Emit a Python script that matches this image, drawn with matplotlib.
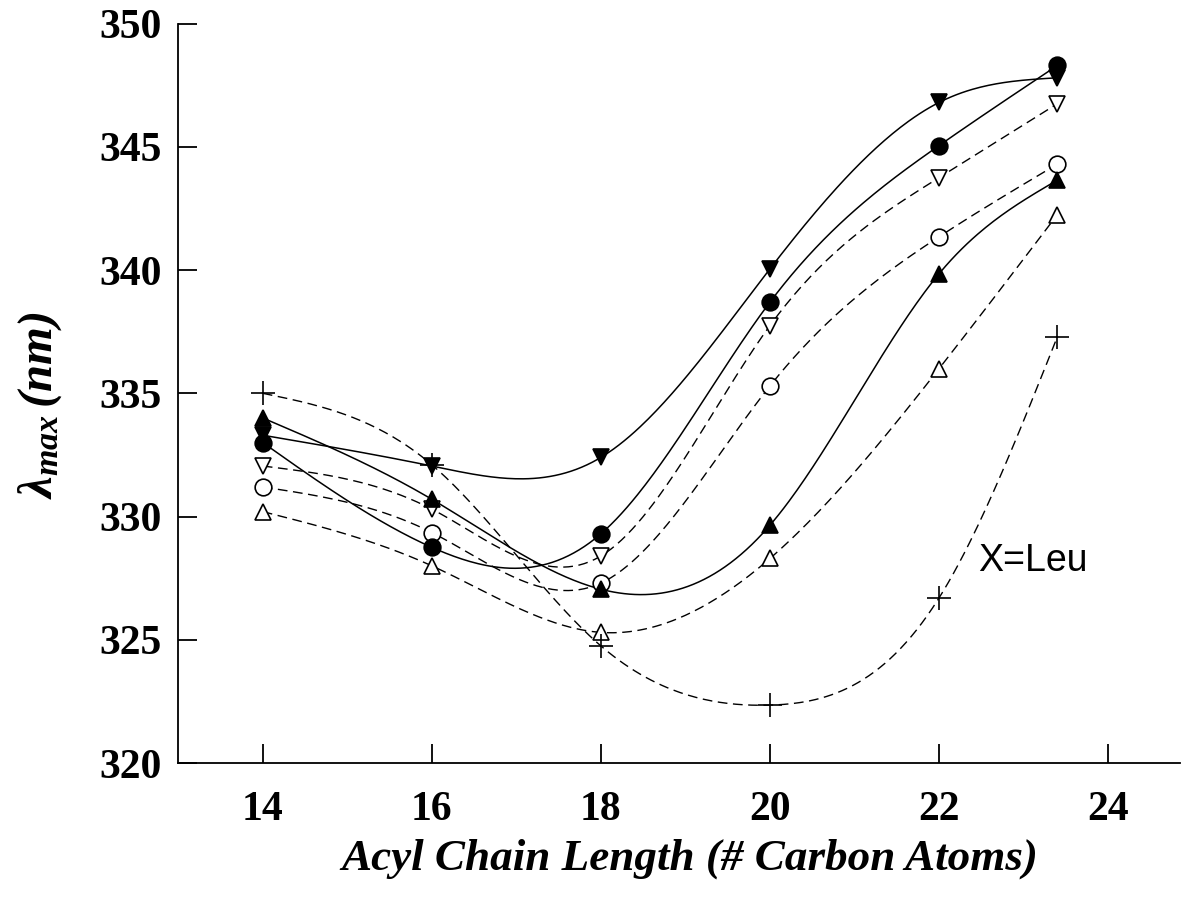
import matplotlib
matplotlib.use('Agg')
import matplotlib.pyplot as plt
import numpy as np

plt.rcParams['font.family'] = ['Liberation Serif', 'DejaVu Serif']
plt.rcParams['mathtext.fontset'] = 'custom'
plt.rcParams['mathtext.it'] = 'Liberation Serif:bold:italic'
plt.rcParams['mathtext.rm'] = 'Liberation Serif:bold:italic'
plt.rcParams['mathtext.bf'] = 'Liberation Serif:bold:italic'

# data (acyl chain length vs lambda max)
chain = [14, 16, 18, 20, 22, 23.4]
tri_down_filled = [333.3, 332.05, 332.4, 340.05, 346.8, 347.8]
circle_filled = [333.0, 328.75, 329.3, 338.7, 345.05, 348.3]
tri_up_filled = [334.0, 330.7, 327.05, 329.65, 339.85, 343.65]
tri_down_open = [332.05, 330.3, 328.4, 337.75, 343.75, 346.75]
circle_open = [331.2, 329.35, 327.3, 335.3, 341.35, 344.3]
tri_up_open = [330.2, 328.0, 325.3, 328.3, 336.0, 342.25]
plus_series = [335.0, 332.1, 324.75, 322.35, 326.7, 337.3]


def natural_spline(x, y, n=300):
    # natural cubic spline through the points
    x = np.asarray(x, float)
    y = np.asarray(y, float)
    k = len(x)
    h = np.diff(x)
    A = np.zeros((k, k))
    r = np.zeros(k)
    A[0, 0] = 1
    A[-1, -1] = 1
    for i in range(1, k - 1):
        A[i, i - 1] = h[i - 1]
        A[i, i] = 2 * (h[i - 1] + h[i])
        A[i, i + 1] = h[i]
        r[i] = 6 * ((y[i + 1] - y[i]) / h[i] - (y[i] - y[i - 1]) / h[i - 1])
    M = np.linalg.solve(A, r)
    xs = np.linspace(x[0], x[-1], n)
    ys = np.empty_like(xs)
    for j, xv in enumerate(xs):
        i = min(np.searchsorted(x, xv, side='right') - 1, k - 2)
        t1 = x[i + 1] - xv
        t0 = xv - x[i]
        ys[j] = (M[i] * t1 ** 3 / (6 * h[i]) + M[i + 1] * t0 ** 3 / (6 * h[i])
                 + (y[i] / h[i] - M[i] * h[i] / 6) * t1
                 + (y[i + 1] / h[i] - M[i + 1] * h[i] / 6) * t0)
    return xs, ys


fig = plt.figure(figsize=(11.82, 9.06), dpi=100)
ax = fig.add_axes([0.1508, 0.1578, 0.8475, 0.8162])

series = [
    (tri_down_open, 'v', 'white', '--'),
    (circle_open, 'o', 'white', '--'),
    (tri_up_open, '^', 'white', '--'),
    (plus_series, '+', 'black', '--'),
    (circle_filled, 'o', 'black', '-'),
    (tri_down_filled, 'v', 'black', '-'),
    (tri_up_filled, '^', 'black', '-'),
]

for vals, mk, fc, ls in series:
    xs, ys = natural_spline(chain, vals)
    if ls == '--':
        ax.plot(xs, ys, color='black', lw=1.0, dashes=(7, 4), zorder=2)
    else:
        ax.plot(xs, ys, color='black', lw=1.1, zorder=2)
    ms = 17 if mk == '+' else 12
    ax.plot(chain, vals, linestyle='none', marker=mk, markersize=ms,
            markerfacecolor=fc, markeredgecolor='black', markeredgewidth=1.2,
            zorder=3)

ax.text(22.46, 328.2, 'X=Leu', fontsize=27, family='Liberation Sans',
        ha='left', va='center')

ax.set_xlim(13, 24.85)
ax.set_ylim(320, 350)
ax.set_xticks([14, 16, 18, 20, 22, 24])
ax.set_yticks([320, 325, 330, 335, 340, 345, 350])
ax.tick_params(axis='both', direction='in', length=14, width=1.3,
               labelsize=30)
ax.tick_params(axis='y', pad=12)
ax.tick_params(axis='x', pad=20)
for lab in ax.get_xticklabels() + ax.get_yticklabels():
    lab.set_fontweight('bold')

ax.spines['top'].set_visible(False)
ax.spines['right'].set_visible(False)
ax.spines['left'].set_linewidth(1.3)
ax.spines['bottom'].set_linewidth(1.3)

ax.set_xlabel('Acyl Chain Length (# Carbon Atoms)', fontsize=32.5,
              fontweight='bold', fontstyle='italic', va='center')
ax.xaxis.set_label_coords(0.511, -0.13)
ax.set_ylabel(r'$\lambda_{max}\,(nm)$', fontsize=35, va='center')
ax.yaxis.set_label_coords(-0.138, 0.484)

plt.savefig('out.png', dpi=100)
